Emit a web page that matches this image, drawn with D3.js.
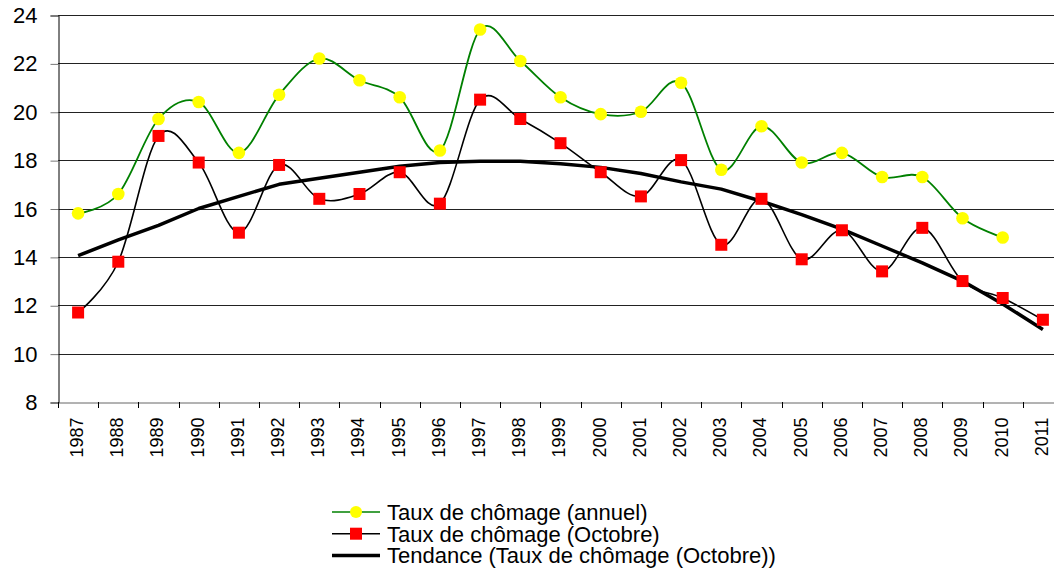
<!DOCTYPE html>
<html>
<head>
<meta charset="utf-8">
<script src="https://cdn.jsdelivr.net/npm/d3@7"></script>
<style>
  body { margin: 0; background: #fff; }
  svg { display: block; font-family: "Liberation Sans", Arial, sans-serif; }
</style>
</head>
<body>
<svg id="chart" width="1054" height="568"></svg>
<script>
// années
var years = [1987, 1988, 1989, 1990, 1991, 1992, 1993, 1994, 1995, 1996, 1997, 1998,
             1999, 2000, 2001, 2002, 2003, 2004, 2005, 2006, 2007, 2008, 2009, 2010, 2011];
// taux annuel (pas de valeur pour 2011)
var annuel = [15.8, 16.6, 19.7, 20.4, 18.3, 20.7, 22.2, 21.3, 20.6, 18.4, 23.4, 22.1,
              20.6, 19.9, 20.0, 21.2, 17.6, 19.4, 17.9, 18.3, 17.3, 17.3, 15.6, 14.8, null];
// taux d'octobre
var octobre = [11.7, 13.8, 19.0, 17.9, 15.0, 17.8, 16.4, 16.6, 17.5, 16.2, 20.5, 19.7,
               18.7, 17.5, 16.5, 18.0, 14.5, 16.4, 13.9, 15.1, 13.4, 15.2, 13.0, 12.3, 11.4];
// courbe de tendance (octobre)
var tendance = [14.05, 14.7, 15.3, 16.0, 16.5, 17.0, 17.25, 17.5, 17.75, 17.9, 17.95, 17.95,
                17.85, 17.7, 17.45, 17.1, 16.8, 16.3, 15.75, 15.15, 14.45, 13.75, 13.0, 12.05, 11.0];
var yTicks = [8, 10, 12, 14, 16, 18, 20, 22, 24];

var legendItems = [
  {text: "Taux de chômage (annuel)", stroke: "#008000", marker: "circle"},
  {text: "Taux de chômage (Octobre)", stroke: "#000", marker: "square"},
  {text: "Tendance (Taux de chômage (Octobre))", stroke: "#000", marker: null, thick: true}
];

// zone du graphique
const plotLeft = 58, plotTop = 15, plotBottom = 402;
const step = 40.2;

var svg = d3.select("#chart");

var x = d3.scaleBand()
  .domain(years)
  .range([plotLeft, plotLeft + step * years.length]);

var y = d3.scaleLinear()
  .domain([8, 24])
  .range([plotBottom, plotTop]);

var cx = function(i){ return x(years[i]) + x.bandwidth() / 2; };

// grille horizontale
svg.append("g")
  .selectAll("line")
  .data(yTicks.slice(1))
  .enter()
  .append("line")
  .attr("x1", plotLeft)
  .attr("x2", 1054)
  .attr("y1", (d)=>Math.round(y(d)) + 0.5)
  .attr("y2", (d)=>Math.round(y(d)) + 0.5)
  .attr("stroke", "#222")
  .attr("stroke-width", 1);

// axe Y
var yAxis = svg.append("g")
  .attr("transform", `translate(${plotLeft + 0.5},0.5)`)
  .call(d3.axisLeft(y).tickValues(yTicks).tickSize(8).tickPadding(13));
yAxis.select(".domain").attr("stroke", "#000");
yAxis.selectAll(".tick line").attr("stroke", "#777");
yAxis.selectAll("text")
  .attr("font-size", 22)
  .attr("fill", "#000")
  .attr("font-family", "Liberation Sans, Arial, sans-serif");

// axe X
var xAxis = svg.append("g")
  .attr("transform", `translate(0.5,${Math.round(plotBottom) + 0.5})`)
  .call(d3.axisBottom(x).tickSize(0).tickPadding(0));
xAxis.select(".domain").attr("stroke", "#666");
xAxis.selectAll(".tick text")
  .attr("font-size", 18)
  .attr("fill", "#000")
  .attr("font-family", "Liberation Sans, Arial, sans-serif")
  .attr("text-anchor", "end")
  .attr("transform", "rotate(-90)")
  .attr("x", -15)
  .attr("y", -2)
  .attr("dy", "0.35em");
// graduations entre les catégories
svg.append("g")
  .selectAll("line")
  .data(d3.range(years.length + 1))
  .enter()
  .append("line")
  .attr("x1", (i)=>Math.round(plotLeft + i * step) + 0.5)
  .attr("x2", (i)=>Math.round(plotLeft + i * step) + 0.5)
  .attr("y1", plotBottom)
  .attr("y2", plotBottom + 6)
  .attr("stroke", "#000");

// courbes
var smooth = d3.line()
  .x((d)=>cx(d[0]))
  .y((d)=>y(d[1]))
  .curve(d3.curveCardinal.tension(0));

var straight = d3.line()
  .x((d)=>cx(d[0]))
  .y((d)=>y(d[1]));

svg.append("path")
  .datum(octobre.map((v, i)=>[i, v]))
  .attr("d", smooth)
  .attr("fill", "none")
  .attr("stroke", "#000")
  .attr("stroke-width", 1.6);

svg.append("path")
  .datum(annuel.map((v, i)=>[i, v]).filter((d)=>d[1] !== null))
  .attr("d", smooth)
  .attr("fill", "none")
  .attr("stroke", "#008000")
  .attr("stroke-width", 1.8);

svg.append("path")
  .datum(tendance.map((v, i)=>[i, v]))
  .attr("d", straight)
  .attr("fill", "none")
  .attr("stroke", "#000")
  .attr("stroke-width", 3.5)
  .attr("stroke-linejoin", "round");

// marqueurs
svg.append("g")
  .selectAll("rect")
  .data(octobre)
  .enter()
  .append("rect")
  .attr("x", (d, i)=>cx(i) - 6)
  .attr("y", (d)=>y(d) - 6)
  .attr("width", 12)
  .attr("height", 12)
  .attr("fill", "#ff0000");

svg.append("g")
  .selectAll("circle")
  .data(annuel.filter((d)=>d !== null))
  .enter()
  .append("circle")
  .attr("cx", (d, i)=>cx(i))
  .attr("cy", (d)=>y(d))
  .attr("r", 6.3)
  .attr("fill", "#ffff00");

// légende
var legend = svg.append("g")
  .selectAll("g")
  .data(legendItems)
  .enter()
  .append("g")
  .attr("transform", (d, i)=>`translate(332,${512 + i * 21.7})`);

legend.append("line")
  .attr("x1", 0)
  .attr("x2", 48)
  .attr("stroke", (d)=>d.stroke)
  .attr("stroke-width", (d)=>d.thick ? 3.5 : 1.6);

legend.filter((d)=>d.marker === "circle")
  .append("circle")
  .attr("cx", 24)
  .attr("r", 6)
  .attr("fill", "#ffff00");

legend.filter((d)=>d.marker === "square")
  .append("rect")
  .attr("x", 18)
  .attr("y", -6)
  .attr("width", 12)
  .attr("height", 12)
  .attr("fill", "#ff0000");

legend.append("text")
  .attr("x", 55)
  .attr("dy", "0.36em")
  .attr("font-size", 22)
  .attr("fill", "#000")
  .text((d)=>d.text);
</script>
</body>
</html>
